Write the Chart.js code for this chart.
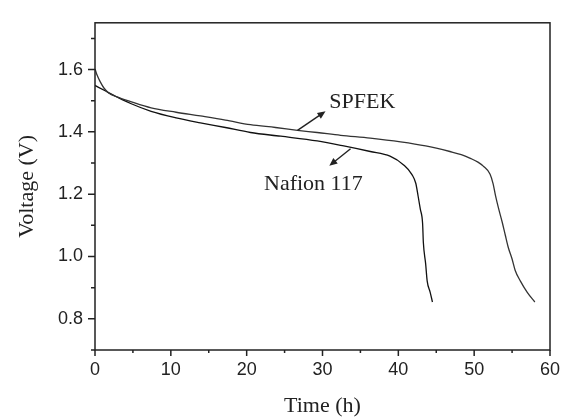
<!DOCTYPE html>
<html>
<head>
<meta charset="utf-8">
<script src="https://cdn.jsdelivr.net/npm/chart.js@4.4.0/dist/chart.umd.min.js"></script>
<style>
  html, body { margin: 0; padding: 0; background: #fff; }
  #chart { display: block; }
</style>
</head>
<body>
<canvas id="chart" width="571" height="420"></canvas>
<script>
// discharge curves (time in h, voltage in V)
const spfekTime    = [0, 0.26, 0.66, 1.2, 1.8, 2.9, 4.7, 7.4, 10.7, 13.9, 17.2, 20.5, 23.8, 26.7, 29.3, 32.4, 36.3, 40.3, 43.6, 46.8, 48.3, 49.5, 50.5, 51.2, 52.1, 52.5, 52.8, 53.2, 53.7, 54.1, 54.5, 55.0, 55.4, 56.1, 57.0, 58.0];
const spfekVoltage = [1.602, 1.583, 1.562, 1.540, 1.525, 1.512, 1.497, 1.477, 1.463, 1.451, 1.438, 1.423, 1.414, 1.405, 1.398, 1.389, 1.380, 1.368, 1.355, 1.337, 1.327, 1.315, 1.303, 1.290, 1.264, 1.233, 1.197, 1.156, 1.110, 1.069, 1.029, 0.992, 0.956, 0.921, 0.885, 0.854];
const nafionTime    = [0, 1.4, 2.9, 4.7, 7.4, 10.7, 13.9, 17.2, 20.5, 24.5, 29.3, 32.8, 36.3, 38.9, 40.7, 41.8, 42.3, 42.6, 42.9, 43.2, 43.3, 43.6, 43.8, 44.2, 44.5];
const nafionVoltage = [1.549, 1.531, 1.512, 1.491, 1.466, 1.445, 1.429, 1.414, 1.398, 1.386, 1.371, 1.355, 1.337, 1.322, 1.294, 1.263, 1.235, 1.195, 1.152, 1.106, 1.045, 0.977, 0.922, 0.885, 0.854];

const xTicks = [0, 10, 20, 30, 40, 50, 60];
const yTicks = [0.8, 1.0, 1.2, 1.4, 1.6];

const TICK_FONT  = { family: "'Liberation Sans', Arial, sans-serif", size: 18 };
const TITLE_FONT = { family: "'Liberation Serif', 'Times New Roman', serif", size: 22 };
const INK = "#222";

const toPoints = (xs, ys) => xs.map((x, i) => ({ x, y: ys[i] }));

// box round the plot + major/minor tick marks (outward)
const frameAndTicks = {
    id: "frameAndTicks",
    afterDatasetsDraw(chart) {
        const { ctx, chartArea: a, scales: { x, y } } = chart;
        ctx.save();
        ctx.strokeStyle = INK;
        ctx.lineWidth = 1.5;
        ctx.strokeRect(a.left, a.top, a.right - a.left, a.bottom - a.top);
        ctx.beginPath();
        for (let v = 0; v <= 60; v += 5) {
            const px = x.getPixelForValue(v);
            const len = v % 10 === 0 ? 6 : 3;
            ctx.moveTo(px, a.bottom);
            ctx.lineTo(px, a.bottom + len);
        }
        for (let i = 7; i <= 17; i++) {
            const py = y.getPixelForValue(i / 10);
            const len = i % 2 === 0 ? 7 : 4;
            ctx.moveTo(a.left - len, py);
            ctx.lineTo(a.left, py);
        }
        ctx.stroke();
        ctx.restore();
    }
};

function arrow(ctx, x1, y1, x2, y2) {
    const ang = Math.atan2(y2 - y1, x2 - x1);
    const head = 8, half = 3.5;
    ctx.beginPath();
    ctx.moveTo(x1, y1);
    ctx.lineTo(x2 - Math.cos(ang) * head * 0.8, y2 - Math.sin(ang) * head * 0.8);
    ctx.stroke();
    ctx.beginPath();
    ctx.moveTo(x2, y2);
    ctx.lineTo(x2 - head * Math.cos(ang) + half * Math.sin(ang), y2 - head * Math.sin(ang) - half * Math.cos(ang));
    ctx.lineTo(x2 - head * Math.cos(ang) - half * Math.sin(ang), y2 - head * Math.sin(ang) + half * Math.cos(ang));
    ctx.closePath();
    ctx.fill();
}

// curve labels with arrows, placed in data units
const curveLabels = {
    id: "curveLabels",
    afterDatasetsDraw(chart) {
        const { ctx, scales: { x, y } } = chart;
        ctx.save();
        ctx.strokeStyle = INK;
        ctx.fillStyle = INK;
        ctx.lineWidth = 1.4;
        arrow(ctx, x.getPixelForValue(26.7), y.getPixelForValue(1.405), x.getPixelForValue(30.4), y.getPixelForValue(1.466));
        arrow(ctx, x.getPixelForValue(33.7), y.getPixelForValue(1.346), x.getPixelForValue(30.9), y.getPixelForValue(1.291));
        ctx.font = `${TITLE_FONT.size}px ${TITLE_FONT.family}`;
        ctx.textBaseline = "alphabetic";
        ctx.textAlign = "left";
        ctx.fillText("SPFEK", x.getPixelForValue(30.9), y.getPixelForValue(1.475));
        ctx.textAlign = "center";
        ctx.fillText("Nafion 117", x.getPixelForValue(28.8), y.getPixelForValue(1.214));
        ctx.restore();
    }
};

new Chart(document.getElementById("chart").getContext("2d"), {
    type: "line",
    data: {
        datasets: [
            {
                label: "SPFEK",
                data: toPoints(spfekTime, spfekVoltage),
                borderColor: "#333",
                borderWidth: 1.3,
                pointRadius: 0,
                cubicInterpolationMode: "monotone",
            },
            {
                label: "Nafion 117",
                data: toPoints(nafionTime, nafionVoltage),
                borderColor: "#111",
                borderWidth: 1.3,
                pointRadius: 0,
                cubicInterpolationMode: "monotone",
            }
        ]
    },
    options: {
        responsive: false,
        animation: false,
        layout: { padding: { left: 0, right: 21, top: 10, bottom: 0 } },
        plugins: { legend: { display: false }, tooltip: { enabled: false } },
        scales: {
            x: {
                type: "linear",
                min: 0,
                max: 60,
                afterBuildTicks: s => { s.ticks = xTicks.map(v => ({ value: v })); },
                afterFit: s => { s.height = 70; },
                ticks: { font: TICK_FONT, color: INK, padding: 9, maxRotation: 0 },
                grid: { display: false, drawTicks: false },
                border: { display: false },
                title: { display: true, text: "Time (h)", font: TITLE_FONT, color: INK, padding: { top: 0, bottom: 1 } }
            },
            y: {
                type: "linear",
                min: 0.7,
                max: 1.75,
                afterBuildTicks: s => { s.ticks = yTicks.map(v => ({ value: v })); },
                afterFit: s => { s.width = 95; },
                ticks: { font: TICK_FONT, color: INK, padding: 12, callback: v => v.toFixed(1) },
                grid: { display: false, drawTicks: false },
                border: { display: false },
                title: { display: true, text: "Voltage (V)", font: TITLE_FONT, color: INK, padding: { top: 14, bottom: 0 } }
            }
        }
    },
    plugins: [frameAndTicks, curveLabels]
});
</script>
</body>
</html>
